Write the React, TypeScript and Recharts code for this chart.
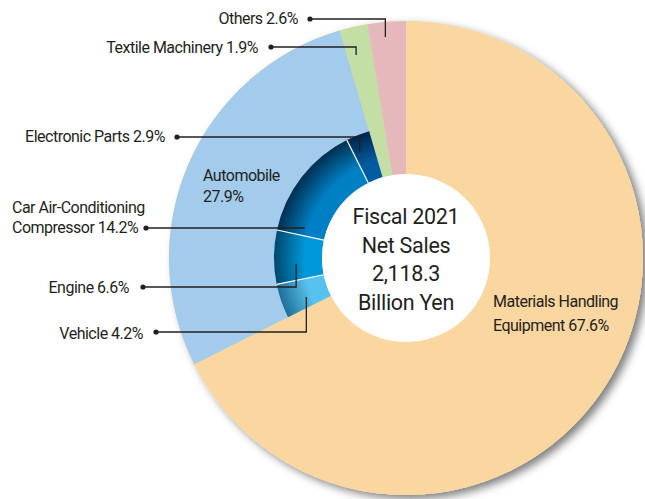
import React from 'react';
import { PieChart, Pie, Cell } from 'recharts';

// business segments, clockwise from 12 o'clock
const segments = ['Materials Handling Equipment', 'Automobile', 'Textile Machinery', 'Others'];
const segmentShares = [67.6, 27.9, 1.9, 2.6];
const segmentColors = ['#fad6a0', '#a2cbec', '#c3dfa6', '#e5b9bc'];

// breakdown of the Automobile segment
const autoParts = ['Vehicle', 'Engine', 'Car Air-Conditioning Compressor', 'Electronic Parts'];
const autoShares = [4.2, 6.6, 14.2, 2.9];
const autoColors = [
  ['#58c2ee', '#1f6f98'],
  ['#0098d8', '#00476c'],
  ['#0080c4', '#002f50'],
  ['#005ca0', '#00254c'],
];

const centerLines = ['Fiscal 2021', 'Net Sales', '2,118.3', 'Billion Yen'];

const CX = 406;
const CY = 258;
const R_OUTER = 237;
const R_RING = 132;
const R_HOLE = 84;
const INK = '#231f20';
const FONT = 'Roboto, "Noto Sans", sans-serif';
const RAD = Math.PI / 180;

// label placement: text position, optional leader (dot + point in slice at radius r, fraction t of the arc)
type Callout = {
  x: number;
  y: number;
  anchor: 'start' | 'end';
  wrap?: number;
  lh?: number;
  dot?: [number, number];
  r?: number;
  t?: number;
};

const segmentCallouts: Callout[] = [
  { x: 493, y: 307, anchor: 'start', wrap: 2, lh: 24 },
  { x: 203, y: 181, anchor: 'start', wrap: 1, lh: 21 },
  { x: 258, y: 53, anchor: 'end', dot: [271, 47], r: 209, t: 0.35 },
  { x: 298, y: 24, anchor: 'end', dot: [310, 19], r: 222, t: 0.43 },
];

const autoCallouts: Callout[] = [
  { x: 143, y: 339, anchor: 'end', dot: [156, 332], r: 107, t: 0.35 },
  { x: 129, y: 293, anchor: 'end', dot: [143, 287], r: 110, t: 0.36 },
  { x: 12, y: 213, anchor: 'start', wrap: 2, lh: 20, dot: [146, 228], r: 106, t: 0.08 },
  { x: 165, y: 142, anchor: 'end', dot: [177, 137], r: 115, t: 0.28 },
];

const totalShare = segmentShares.reduce((a, b) => a + b, 0);
const autoStart = 90 - (360 * segmentShares[0]) / totalShare;
const autoEnd = autoStart - (360 * segmentShares[1]) / totalShare;

const segmentData = segments.map((name, i) => ({ name, value: segmentShares[i] }));
const autoData = autoParts.map((name, i) => ({ name, value: autoShares[i] }));

const makeLabel = (callouts: Callout[], names: string[], shares: number[], separators = false) =>
  (props: any) => {
    const { cx, cy, startAngle, endAngle, innerRadius, outerRadius, index } = props;
    const c = callouts[index];
    const words = `${names[index]} ${shares[index].toFixed(1)}%`.split(' ');
    const lines = c.wrap ? [words.slice(0, c.wrap).join(' '), words.slice(c.wrap).join(' ')] : [words.join(' ')];
    let leader = null;
    if (c.dot && c.r !== undefined && c.t !== undefined) {
      const a = startAngle + (endAngle - startAngle) * c.t;
      const ex = cx + Math.cos(-a * RAD) * c.r;
      const ey = cy + Math.sin(-a * RAD) * c.r;
      const [dx, dy] = c.dot;
      leader = (
        <g>
          <polyline points={`${dx},${dy} ${ex},${dy} ${ex},${ey}`} fill="none" stroke={INK} strokeWidth={1.3} />
          <circle cx={dx} cy={dy} r={2.6} fill={INK} />
        </g>
      );
    }
    let sep = null;
    if (separators && index > 0) {
      const x1 = cx + Math.cos(-startAngle * RAD) * innerRadius;
      const y1 = cy + Math.sin(-startAngle * RAD) * innerRadius;
      const x2 = cx + Math.cos(-startAngle * RAD) * outerRadius;
      const y2 = cy + Math.sin(-startAngle * RAD) * outerRadius;
      sep = <line x1={x1} y1={y1} x2={x2} y2={y2} stroke="#fff" strokeWidth={1.2} />;
    }
    return (
      <g>
        {sep}
        {leader}
        <text
          x={c.x}
          y={c.y}
          textAnchor={c.anchor}
          fill={INK}
          fontSize={16}
          letterSpacing={-0.5}
          fontFamily={FONT}
        >
          {lines.map((ln, i) => (
            <tspan key={i} x={c.x} dy={i === 0 ? 0 : c.lh}>
              {ln}
            </tspan>
          ))}
        </text>
      </g>
    );
  };

const renderCenter = (props: any) => {
  const { cx, cy } = props;
  return (
    <text x={cx} y={cy - 34} textAnchor="middle" fill={INK} fontSize={21.5} letterSpacing={-0.3} fontFamily={FONT}>
      {centerLines.map((ln, i) => (
        <tspan key={i} x={cx} dy={i === 0 ? 0 : 28.5}>
          {ln}
        </tspan>
      ))}
    </text>
  );
};

export default function App() {
  return (
    <div style={{ position: 'absolute', left: 0, top: 0, width: 645, height: 499, background: '#fff' }}>
      <PieChart width={645} height={499} margin={{ top: 0, right: 0, bottom: 0, left: 0 }}>
        <defs>
          <filter id="pieShadow" x="-10%" y="-10%" width="125%" height="125%">
            <feDropShadow dx={5} dy={4} stdDeviation={4} floodColor="#000" floodOpacity={0.5} />
          </filter>
          {autoColors.map(([inner, outer], i) => (
            <radialGradient key={i} id={`ring${i}`} gradientUnits="userSpaceOnUse" cx={CX} cy={CY} r={R_RING}>
              <stop offset={R_HOLE / R_RING} stopColor={inner} />
              <stop offset={0.77} stopColor={inner} />
              <stop offset={1} stopColor={outer} />
            </radialGradient>
          ))}
        </defs>
        <Pie
          data={[{ name: 'base', value: totalShare }]}
          dataKey="value"
          cx={CX}
          cy={CY}
          outerRadius={R_OUTER}
          startAngle={90}
          endAngle={-270}
          stroke="none"
          isAnimationActive={false}
        >
          <Cell fill={segmentColors[0]} filter="url(#pieShadow)" />
        </Pie>
        <Pie
          data={segmentData}
          dataKey="value"
          cx={CX}
          cy={CY}
          outerRadius={R_OUTER}
          startAngle={90}
          endAngle={-270}
          stroke="none"
          labelLine={false}
          label={makeLabel(segmentCallouts, segments, segmentShares)}
          isAnimationActive={false}
        >
          {segmentData.map((d, i) => (
            <Cell key={d.name} fill={segmentColors[i]} />
          ))}
        </Pie>
        <Pie
          data={autoData}
          dataKey="value"
          cx={CX}
          cy={CY}
          innerRadius={R_HOLE}
          outerRadius={R_RING}
          startAngle={autoStart}
          endAngle={autoEnd}
          stroke="none"
          labelLine={false}
          label={makeLabel(autoCallouts, autoParts, autoShares, true)}
          isAnimationActive={false}
        >
          {autoData.map((d, i) => (
            <Cell key={d.name} fill={`url(#ring${i})`} />
          ))}
        </Pie>
        <Pie
          data={[{ name: 'total', value: 1 }]}
          dataKey="value"
          cx={CX}
          cy={CY}
          outerRadius={R_HOLE}
          stroke="none"
          fill="#fff"
          labelLine={false}
          label={renderCenter}
          isAnimationActive={false}
        />
      </PieChart>
    </div>
  );
}
